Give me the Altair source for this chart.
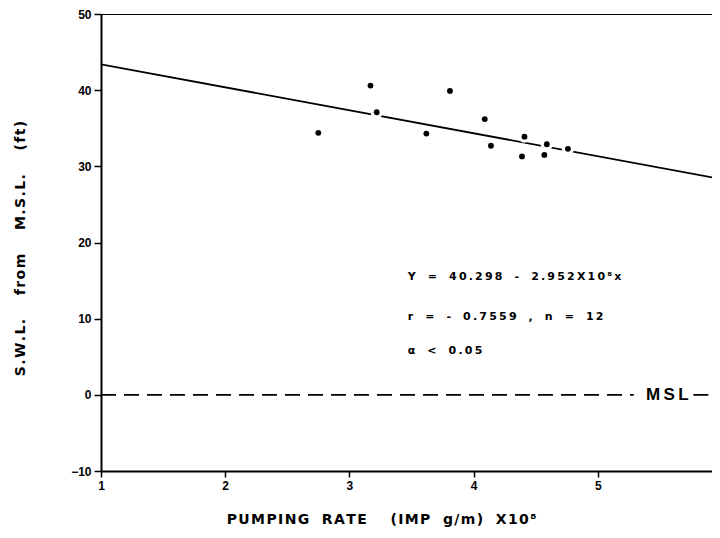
import altair as alt
import pandas as pd

# Observed data (pumping rate x10^8 IMP g/m, S.W.L. ft from MSL)
pump_rate = [2.75, 3.17, 3.22, 3.62, 3.81, 4.09, 4.14, 4.41, 4.39, 4.59, 4.57, 4.76]
swl = [34.4, 40.6, 37.1, 34.3, 39.9, 36.2, 32.7, 33.9, 31.3, 32.9, 31.5, 32.3]

# Regression line as drawn
fit_x = [1.0, 6.0]
fit_y = [43.4, 28.3]

# MSL dashed line segments (gap for label)
msl_x1 = [1.0, 5.77]
msl_x2 = [5.29, 6.0]
msl_y = [0, 0]
msl_label_x = [5.56]
msl_label_y = [0]

x_ticks = [1, 2, 3, 4, 5, 6]
y_ticks = [-10, 0, 10, 20, 30, 40, 50]
x_view = [1, 5.92]
y_view = [-10, 50]


def spaced(s, gap="\u2009", space="\u00a0\u00a0"):
    # wide, typewriter-like lettering: small space between characters
    out = [space if ch == " " else ch for ch in s]
    return gap.join(out)


ann_lines = ["Y = 40.298 - 2.952X10\u2078x",
             "r = - 0.7559 , n = 12",
             "\u03b1 < 0.05"]
ann_text = [spaced(t, "\u2009", "\u00a0\u00a0") for t in ann_lines]
ann_x = [3.47, 3.47, 3.47]
ann_y = [15.5, 10.2, 5.8]

top_x1 = [1.0]
top_x2 = [6.0]
top_y = [50]

pts = pd.DataFrame({"x": pump_rate, "y": swl})
fit = pd.DataFrame({"x": fit_x, "y": fit_y})
msl = pd.DataFrame({"x": msl_x1, "x2": msl_x2, "y": msl_y})
msl_lab = pd.DataFrame({"x": msl_label_x, "y": msl_label_y, "t": [spaced("MSL")]})
ann = pd.DataFrame({"x": ann_x, "y": ann_y, "t": ann_text})
top = pd.DataFrame({"x": top_x1, "x2": top_x2, "y": top_y})

FONT = "DejaVu Sans"
LFONT = "Liberation Sans"

xscale = alt.Scale(domain=x_view, nice=False, zero=False)
yscale = alt.Scale(domain=y_view, nice=False, zero=False)

xaxis = alt.Axis(
    title=spaced("PUMPING RATE  (IMP g/m) X10\u2078", "\u200a"),
    values=x_ticks, format="d", grid=False,
    domainColor="black", domainWidth=2, tickColor="black", tickWidth=1.5, tickSize=6,
    labelFont=LFONT, labelFontSize=12, labelFontWeight="bold", labelColor="black",
    labelPadding=3, labelOverlap=False, labelBound=False, labelFlush=False,
    titleFont=FONT, titleFontSize=14, titleFontWeight="bold", titleColor="black",
    titleX=280, titleY=48, titleBaseline="middle", titleAnchor="middle", titleAlign="center",
)
yaxis = alt.Axis(
    title=spaced("S.W.L.  from  M.S.L.  (ft)", "\u200a", "\u00a0\u00a0"),
    values=y_ticks, format="d", grid=False,
    domainColor="black", domainWidth=2, tickColor="black", tickWidth=1.5, tickSize=7,
    labelFont=LFONT, labelFontSize=12, labelFontWeight="bold", labelColor="black",
    labelPadding=3,
    titleFont=FONT, titleFontSize=14, titleFontWeight="bold", titleColor="black",
    titleX=-81, titleY=234, titleBaseline="middle", titleAnchor="middle", titleAlign="center",
)

X = alt.X("x:Q", scale=xscale, axis=xaxis)
Y = alt.Y("y:Q", scale=yscale, axis=yaxis)

top_rule = alt.Chart(top).mark_rule(color="black", strokeWidth=2, clip=True).encode(
    x=X, x2="x2:Q", y=Y)

msl_rule = alt.Chart(msl).mark_rule(color="black", strokeWidth=1.8, strokeDash=[15, 8],
                                     clip=True).encode(x=X, x2="x2:Q", y=Y)

msl_text = alt.Chart(msl_lab).mark_text(font=LFONT, fontSize=17, fontWeight="bold",
                                        color="black").encode(x=X, y=Y, text="t:N")

fit_line = alt.Chart(fit).mark_line(color="black", strokeWidth=1.8, clip=True).encode(x=X, y=Y)

halo = alt.Chart(pts).mark_point(filled=True, color="white", size=150, opacity=1).encode(x=X, y=Y)

points = alt.Chart(pts).mark_point(filled=True, color="black", size=34, opacity=1).encode(x=X, y=Y)

ann_mark = alt.Chart(ann).mark_text(font=FONT, fontSize=11, fontWeight="bold", color="black",
                                    align="left", baseline="middle").encode(x=X, y=Y, text="t:N")

chart = alt.layer(top_rule, msl_rule, msl_text, fit_line, halo, points, ann_mark).properties(
    width=611, height=457,
    autosize=alt.AutoSizeParams(type="none"),
    padding={"left": 93, "top": 6, "right": 0, "bottom": 58},
    background="white",
).configure_view(stroke=None)

chart.save("out.html", embed_options={"renderer": "svg", "actions": False})
